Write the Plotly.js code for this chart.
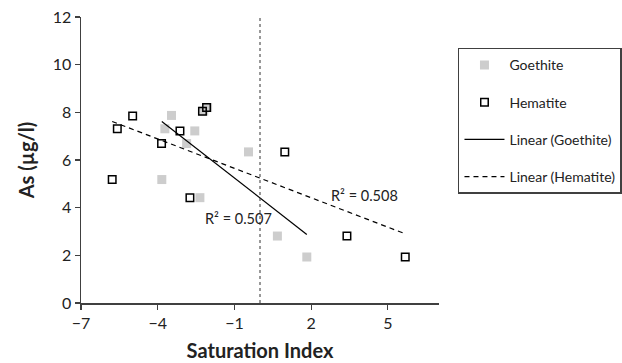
<!DOCTYPE html>
<html>
<head>
<meta charset="utf-8">
<script src="https://cdn.plot.ly/plotly-3.0.1.min.js"></script>
<style>html,body{margin:0;padding:0;background:#fff;}#chart{width:622px;height:363px;}</style>
</head>
<body>
<div id="chart"></div>
<script>
// Data
const goethiteSI = [-3.72, -3.46, -2.55, -2.87, -2.05, -2.2, -0.45, -3.84, -2.35, 0.68, 1.83];
const goethiteAs = [7.31, 7.87, 7.22, 6.69, 8.2, 8.05, 6.34, 5.18, 4.42, 2.81, 1.93];
const hematiteSI = [-4.98, -5.58, -3.85, -3.13, -2.25, -2.09, -5.78, -2.74, 0.97, 3.40, 5.68];
const hematiteAs = [7.85, 7.31, 6.69, 7.22, 8.05, 8.2, 5.18, 4.42, 6.34, 2.81, 1.93];
const seriesNames = ["Goethite", "Hematite", "Linear (Goethite)", "Linear (Hematite)"];
const r2Labels = ["R² = 0.507", "R² = 0.508"];
const r2LabelX = [-0.85, 4.1];
const r2LabelY = [3.55, 4.5];
const saturationLine = 0;
const xTickVals = [-7, -4, -1, 2, 5];
const yTickVals = [0, 2, 4, 6, 8, 10, 12];

function fit(xs, ys) {
  const n = xs.length;
  const mx = xs.reduce((a, b) => a + b, 0) / n;
  const my = ys.reduce((a, b) => a + b, 0) / n;
  let sxy = 0, sxx = 0;
  for (let i = 0; i < n; i++) { sxy += (xs[i] - mx) * (ys[i] - my); sxx += (xs[i] - mx) ** 2; }
  const m = sxy / sxx, b = my - m * mx;
  const x0 = Math.min(...xs), x1 = Math.max(...xs);
  return { x: [x0, x1], y: [m * x0 + b, m * x1 + b] };
}
const gFit = fit(goethiteSI, goethiteAs);
const hFit = fit(hematiteSI, hematiteAs);

const font = "Lato, 'Open Sans', sans-serif";
const traces = [
  { x: goethiteSI, y: goethiteAs, name: seriesNames[0], type: "scatter", mode: "markers", legendgroup: "a",
    marker: { symbol: "square", size: 9, color: "#cdcdcd", line: { width: 0 } } },
  { x: hematiteSI, y: hematiteAs, name: seriesNames[1], type: "scatter", mode: "markers", legendgroup: "b",
    marker: { symbol: "square-open", size: 7.5, color: "#000", line: { width: 1.5, color: "#000" } } },
  { x: gFit.x, y: gFit.y, name: seriesNames[2], type: "scatter", mode: "lines", legendgroup: "c",
    line: { color: "#000", width: 1.2 } },
  { x: hFit.x, y: hFit.y, name: seriesNames[3], type: "scatter", mode: "lines", legendgroup: "d",
    line: { color: "#000", width: 1.2, dash: "5px,4px" } }
];

const layout = {
  width: 622, height: 363,
  margin: { l: 81, r: 183, t: 17, b: 60, autoexpand: false },
  paper_bgcolor: "#fff", plot_bgcolor: "#fff",
  font: { family: font, size: 16, color: "#222" },
  showlegend: true,
  legend: { x: 1.053, y: 0.892, xanchor: "left", yanchor: "top", bordercolor: "#404040", borderwidth: 1.5,
    font: { size: 14, color: "#222" }, tracegroupgap: 16, itemwidth: 40, bgcolor: "#fff" },
  xaxis: { range: [-7, 7], tickvals: xTickVals, ticks: "outside", ticklen: 5, tickwidth: 1.2, tickcolor: "#404040",
    showline: true, linecolor: "#404040", linewidth: 1.5, showgrid: false, zeroline: false,
    tickfont: { size: 16 },
    title: { text: "<b>Saturation Index</b>", font: { size: 20 }, standoff: 13 } },
  yaxis: { range: [0, 12], tickvals: yTickVals, ticks: "outside", ticklen: 5, tickwidth: 1.2, tickcolor: "#404040",
    showline: true, linecolor: "#404040", linewidth: 1.5, showgrid: false, zeroline: false,
    tickfont: { size: 16 },
    title: { text: "<b>As (µg/l)</b>", font: { size: 20 }, standoff: 12 } },
  shapes: [{ type: "line", xref: "x", yref: "y", x0: saturationLine, x1: saturationLine, y0: 0, y1: 12,
    line: { color: "#333", width: 1, dash: "dot" } }],
  annotations: r2Labels.map((t, i) => ({ x: r2LabelX[i], y: r2LabelY[i], xref: "x", yref: "y", text: t,
    showarrow: false, font: { size: 14.5, color: "#222" } }))
};

Plotly.newPlot("chart", traces, layout, { displayModeBar: false, staticPlot: true });
</script>
</body>
</html>
